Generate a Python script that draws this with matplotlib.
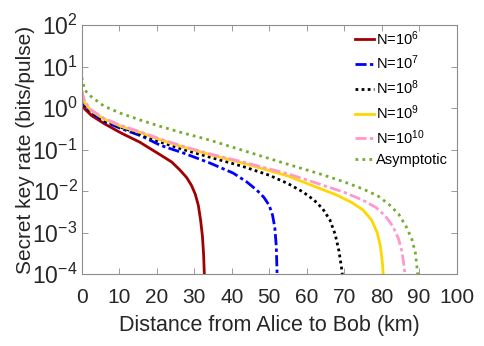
import numpy as np
import matplotlib
matplotlib.use("Agg")
import matplotlib.pyplot as plt

plt.rcParams['font.family'] = ['Liberation Sans', 'DejaVu Sans']
plt.rcParams['mathtext.fontset'] = 'custom'
plt.rcParams['mathtext.rm'] = 'Liberation Sans'
plt.rcParams['mathtext.it'] = 'Liberation Sans:italic'

# distance (km) and secret key rate (bits/pulse)
d_1e6 = [0, 0.8, 2.6, 6, 10.5, 15.5, 21, 24, 26.2, 28, 29.3, 30.3, 31.1,
         31.7, 32.2, 32.5, 32.7]
r_1e6 = [1.55, 0.95, 0.66, 0.42, 0.25, 0.15, 0.074, 0.05, 0.032, 0.021,
         0.0135, 8.3e-3, 4.5e-3, 2.0e-3, 8.0e-4, 3.0e-4, 1e-4]

d_1e7 = [0, 0.8, 2.6, 6, 10.5, 16, 21, 27, 34, 40.4, 44, 46.7, 48.6, 50.0,
         50.9, 51.5, 51.9, 52.1]
r_1e7 = [2.0, 1.12, 0.78, 0.47, 0.32, 0.21, 0.126, 0.083, 0.048, 0.027,
         0.0166, 0.0105, 7.0e-3, 4.5e-3, 2.6e-3, 1.3e-3, 4.5e-4, 1e-4]

d_1e8 = [0, 0.8, 2.6, 6, 10.5, 16, 21, 27, 34, 43, 50, 55, 59, 62, 64.3,
         66.2, 67.6, 68.6, 69.2, 69.5]
r_1e8 = [2.24, 1.2, 0.81, 0.5, 0.34, 0.23, 0.151, 0.1, 0.066, 0.039, 0.024,
         0.0151, 9.5e-3, 6.0e-3, 3.7e-3, 2.0e-3, 9.0e-4, 3.6e-4, 1.6e-4, 1e-4]

d_1e9 = [0, 0.8, 2.6, 6, 10.5, 16, 21, 27, 34, 43, 55, 63.5, 68, 72, 75,
         77.3, 78.8, 79.7, 80.2, 80.4]
r_1e9 = [2.5, 1.32, 0.85, 0.54, 0.36, 0.25, 0.17, 0.115, 0.076, 0.047,
         0.023, 0.0115, 8.0e-3, 5.3e-3, 3.5e-3, 2.0e-3, 1.0e-3, 4.5e-4,
         1.8e-4, 1e-4]

d_1e10 = [0, 0.8, 2.6, 6, 10.5, 16, 21, 27, 34, 43, 55, 64, 70, 75, 78.5,
          81, 83, 84.5, 85.4, 85.9, 86.2]
r_1e10 = [2.7, 1.41, 0.89, 0.56, 0.38, 0.26, 0.178, 0.12, 0.079, 0.05,
          0.026, 0.0141, 9.3e-3, 6.0e-3, 4.0e-3, 2.5e-3, 1.4e-3, 7.0e-4,
          3.5e-4, 1.7e-4, 1e-4]

d_asym = [0, 0.8, 2.6, 6, 10.5, 16, 21, 27, 34, 43, 55, 64, 70, 75, 79, 82,
          84.5, 86.5, 88, 89, 89.6]
r_asym = [5.5, 2.7, 1.86, 1.1, 0.74, 0.5, 0.36, 0.25, 0.17, 0.095, 0.044,
          0.025, 0.0166, 0.0112, 7.6e-3, 4.7e-3, 2.8e-3, 1.4e-3, 7.1e-4,
          3.2e-4, 1e-4]

labels = [r'N=$\mathdefault{10^{6}}$', r'N=$\mathdefault{10^{7}}$',
          r'N=$\mathdefault{10^{8}}$', r'N=$\mathdefault{10^{9}}$',
          r'N=$\mathdefault{10^{10}}$', 'Asymptotic']

fig = plt.figure(figsize=(4.85, 3.46), dpi=100)
ax = fig.add_axes([0.1685, 0.2081, 0.7731, 0.7196])

ax.plot(d_1e6, r_1e6, color='#A00000', lw=2.0, ls='-', label=labels[0])
ax.plot(d_1e7, r_1e7, color='#0000FF', lw=2.0, ls=(0, (4, 1.2, 1.2, 1.2)), label=labels[1])
ax.plot(d_1e8, r_1e8, color='black', lw=2.0, ls=(0, (1, 1.2)), label=labels[2])
ax.plot(d_1e9, r_1e9, color='#FFD700', lw=2.0, ls='-', label=labels[3])
ax.plot(d_1e10, r_1e10, color='#FF99CC', lw=2.0, ls=(0, (4, 1.2, 1.2, 1.2)), label=labels[4])
ax.plot(d_asym, r_asym, color='#77AC30', lw=2.0, ls=(0, (1, 1.5)), label=labels[5])

ax.set_yscale('log')
ax.set_xlim(0, 100)
ax.set_ylim(1e-4, 1e2)
ax.set_xticks(np.arange(0, 101, 10))
ax.set_yticks([1e-4, 1e-3, 1e-2, 1e-1, 1e0, 1e1, 1e2])

for s in ax.spines.values():
    s.set_color('#8c8c8c')
    s.set_linewidth(0.8)
ax.tick_params(which='both', direction='in', top=True, right=True,
               colors='#8c8c8c', labelcolor='#262626')
ax.tick_params(which='major', length=4, width=0.6)
ax.tick_params(which='minor', length=2, width=0.5)
ax.tick_params(axis='y', labelsize=16.5, pad=3)
ax.tick_params(axis='x', labelsize=15, pad=10)
ax.xaxis.set_minor_locator(matplotlib.ticker.NullLocator())

ax.set_xlabel('Distance from Alice to Bob (km)', fontsize=15.5, color='#262626', labelpad=6)
ax.set_ylabel('Secret key rate (bits/pulse)', fontsize=15, color='#262626', labelpad=-2)

ax.legend(loc='upper left', bbox_to_anchor=(355 / 485, 1 - 29 / 346),
          bbox_transform=fig.transFigure, frameon=False, fontsize=10.5,
          handlelength=1.3, handletextpad=0.15, labelspacing=0.42,
          borderpad=0, borderaxespad=0)

fig.savefig('out.png', dpi=100)
